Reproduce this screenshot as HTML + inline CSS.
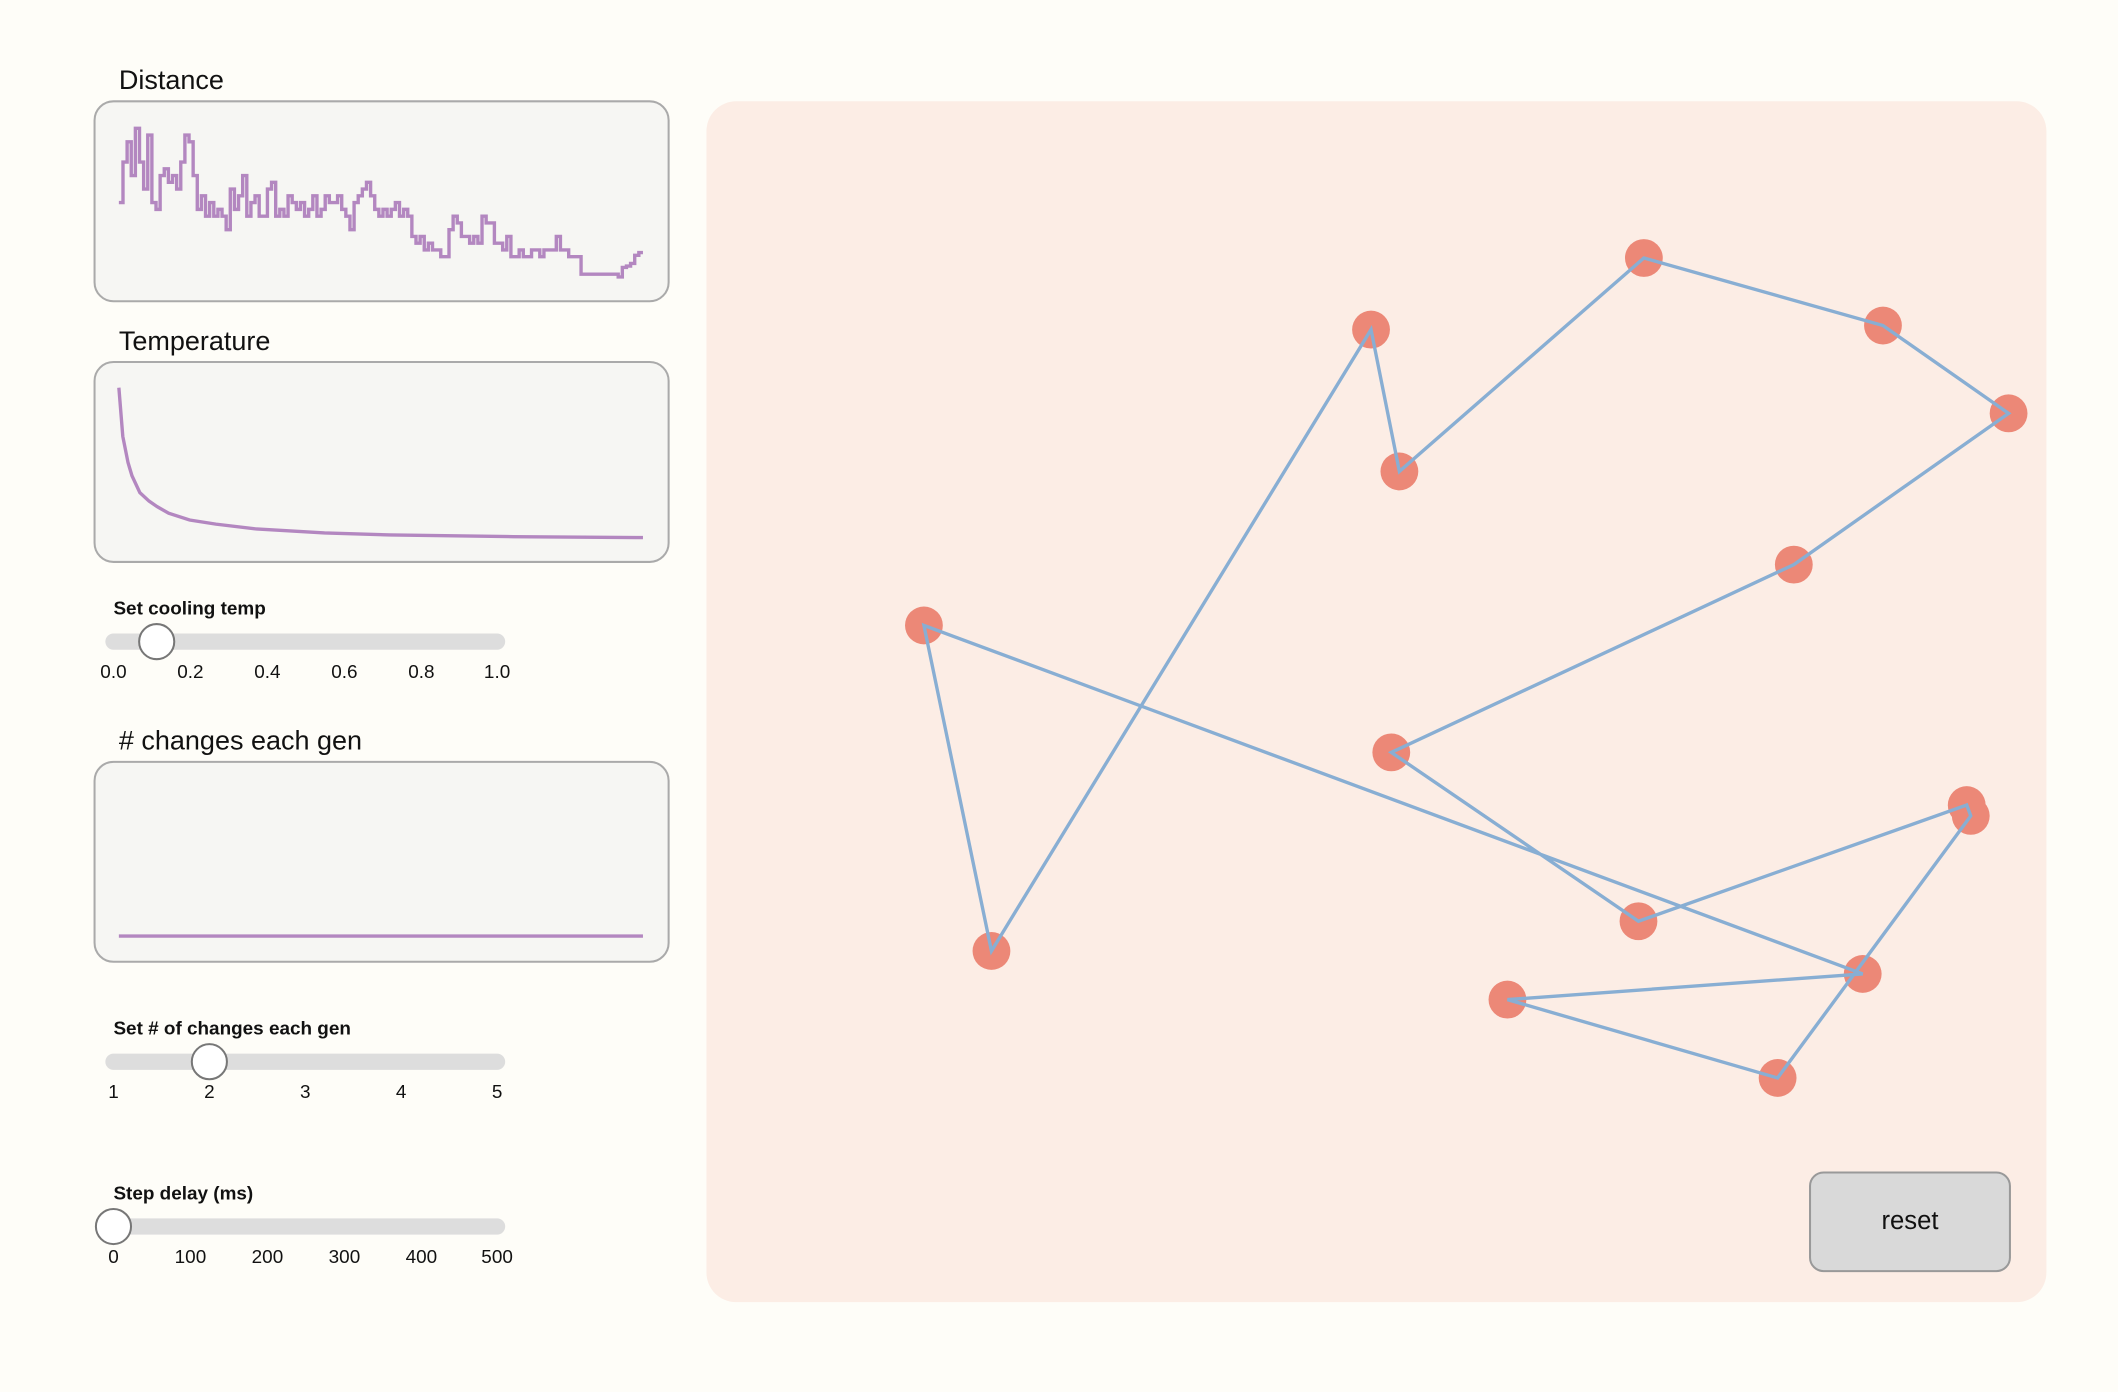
<!DOCTYPE html>
<html><head><meta charset="utf-8"><style>
html,body{margin:0;padding:0;background:#fefdf8;}
svg{display:block;font-family:"Liberation Sans",sans-serif;}
</style></head><body>
<svg id="root" width="2118" height="1392" viewBox="0 0 1568 1030.5" preserveAspectRatio="none">
<rect x="0" y="0" width="1568" height="1031" fill="#fefdf8"/>

<text x="88" y="66" font-size="20" fill="#111">Distance</text>
<rect x="70" y="75" width="425" height="148" rx="14" fill="#f6f6f3" stroke="#aaa" stroke-width="1.5"/>
<g id="distG"></g>

<text x="88" y="259" font-size="20" fill="#111">Temperature</text>
<rect x="70" y="268" width="425" height="148" rx="14" fill="#f6f6f3" stroke="#aaa" stroke-width="1.5"/>
<g id="tempG"></g>

<text x="84" y="455" font-size="14" font-weight="bold" fill="#111">Set cooling temp</text>
<rect x="78" y="469" width="296" height="12" rx="6" fill="#dddddd"/>
<circle cx="116" cy="475" r="13" fill="#fff" stroke="#777" stroke-width="1.5"/>
<g font-size="14" fill="#111" text-anchor="middle">
<text x="84" y="502">0.0</text><text x="141" y="502">0.2</text><text x="198" y="502">0.4</text><text x="255" y="502">0.6</text><text x="312" y="502">0.8</text><text x="368" y="502">1.0</text>
</g>

<text x="88" y="555" font-size="20" fill="#111"># changes each gen</text>
<rect x="70" y="564" width="425" height="148" rx="14" fill="#f6f6f3" stroke="#aaa" stroke-width="1.5"/>
<g id="chgG"></g>

<text x="84" y="766" font-size="14" font-weight="bold" fill="#111">Set # of changes each gen</text>
<rect x="78" y="780" width="296" height="12" rx="6" fill="#dddddd"/>
<circle cx="155" cy="786" r="13" fill="#fff" stroke="#777" stroke-width="1.5"/>
<g font-size="14" fill="#111" text-anchor="middle">
<text x="84" y="813">1</text><text x="155" y="813">2</text><text x="226" y="813">3</text><text x="297" y="813">4</text><text x="368" y="813">5</text>
</g>

<text x="84" y="888" font-size="14" font-weight="bold" fill="#111">Step delay (ms)</text>
<rect x="78" y="902" width="296" height="12" rx="6" fill="#dddddd"/>
<circle cx="84" cy="908" r="13" fill="#fff" stroke="#777" stroke-width="1.5"/>
<g font-size="14" fill="#111" text-anchor="middle">
<text x="84" y="935">0</text><text x="141" y="935">100</text><text x="198" y="935">200</text><text x="255" y="935">300</text><text x="312" y="935">400</text><text x="368" y="935">500</text>
</g>

<rect x="523" y="75" width="992" height="889" rx="22" fill="#fcede5"/>
<g id="tourG"></g>

<g>
<rect x="1340" y="868" width="148" height="73" rx="10" fill="#d9d9d9" stroke="#999" stroke-width="1.5"/>
<text x="1414" y="910" font-size="19" text-anchor="middle" fill="#111">reset</text>
</g>
</svg>
<script>
// Distance series (arbitrary units), one value per generation sample
const distValues=[65,95,110,85,120,95,75,115,65,60,85,90,80,85,75,95,115,110,85,60,70,55,65,55,60,55,45,75,60,70,85,55,65,70,55,55,75,80,55,60,55,70,65,60,65,55,60,70,55,60,70,65,65,70,60,55,45,65,70,75,80,70,60,55,60,55,60,65,55,60,55,40,35,40,30,35,30,30,25,25,45,55,50,40,40,35,40,35,55,50,50,35,35,30,40,25,25,30,25,25,30,30,25,30,30,30,40,30,30,25,25,25,12,12,12,12,12,12,12,12,12,10,17,18,20,26,28,28];
// Temperature series: generation and temperature
const tempGen=[0,3,7,10,16,23,29,38,54,74,105,157,207,301,400];
const tempValues=[100,74,60,53,44,39.5,36.6,33,29.4,27.2,24.6,22.5,21.4,20.5,20];
// Changes per generation series
const chgValues=[2,2,2,2,2,2,2,2,2,2,2,2,2,2,2,2,2,2,2,2];
// City positions (map units) in tour order
const cityX=[684,734,1015,1036,1217,1394,1487,1328,1030,1213,1456,1459,1316,1116,1379];
const cityY=[463,704,244,349,191,241,306,418,557,682,596,604,798,740,721];

const NS='http://www.w3.org/2000/svg';
function lin(d0,d1,r0,r1){return v=>r0+(v-d0)/(d1-d0)*(r1-r0);}
function drawPath(g,d,name){
  const p=document.createElementNS(NS,'path');
  p.setAttribute('d',d);p.setAttribute('fill','none');
  p.setAttribute('stroke','#b387c0');p.setAttribute('stroke-width','2.5');
  
  
  g.appendChild(p);
}
function stepLine(g,vals,x0,x1,y,name,step){
  const xs=lin(0,vals.length-1,x0,x1);
  let d='';
  vals.forEach((v,i)=>{
    const X=xs(i),Y=y(v);
    if(i===0)d+='M'+X+','+Y;
    else if(step)d+='H'+X+'V'+Y;
    else d+='L'+X+','+Y;
  });
  drawPath(g,d,name);
}
stepLine(document.getElementById('distG'),distValues,88,476,lin(10,120,205,95),'distance-line',true);
(function(){
  const xs=lin(0,400,88,476), ys=lin(20,100,398,287);
  let d='';
  tempGen.forEach((t,i)=>{d+=(i?'L':'M')+xs(t)+','+ys(tempValues[i]);});
  drawPath(document.getElementById('tempG'),d,'temperature-line');
})();
stepLine(document.getElementById('chgG'),chgValues,88,476,lin(0,10,700,665),'changes-line',false);

const tx=lin(0,1568,0,1568), ty=lin(0,1030,0,1030);
const tg=document.getElementById('tourG');
cityX.forEach((x,i)=>{
  const c=document.createElementNS(NS,'circle');
  c.setAttribute('cx',tx(x));c.setAttribute('cy',ty(cityY[i]));c.setAttribute('r','14');
  c.setAttribute('fill','#ec8877');
  
  
  tg.appendChild(c);
});
let pd='';
cityX.forEach((x,i)=>{pd+=(i?'L':'M')+tx(x)+','+ty(cityY[i]);});
pd+='Z';
const tp=document.createElementNS(NS,'path');
tp.setAttribute('d',pd);tp.setAttribute('fill','none');
tp.setAttribute('stroke','#88aed3');tp.setAttribute('stroke-width','2.5');


tg.appendChild(tp);
</script>
</body></html>
